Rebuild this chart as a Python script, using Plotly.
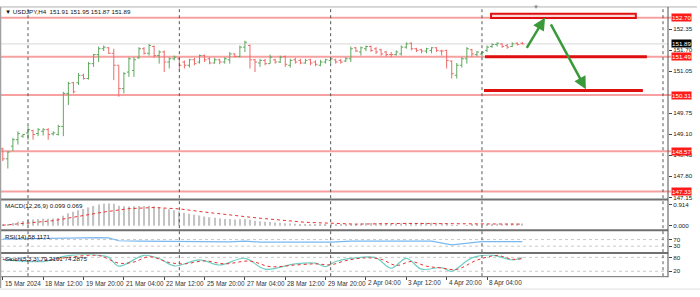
import plotly.graph_objects as go

# ---------------- data ----------------
bar_open = [148.65,148.34,148.73,148.93,149.04,149.14,149.21,149.12,149.19,149.24,
            149.11,149.09,149.34,150.36,150.69,150.69,150.92,150.82,151.28,151.56,
            151.74,151.77,151.60,151.23,150.51,151.02,151.07,151.46,151.74,151.60,
            151.81,151.53,151.64,151.33,151.43,151.43,151.33,151.23,151.40,151.33,
            151.53,151.43,151.30,151.40,151.33,151.40,151.58,151.50,151.79,151.84,
            151.40,151.30,151.38,151.28,151.40,151.33,151.50,151.23,151.40,151.38,
            151.30,151.40,151.33,151.23,151.33,151.38,151.40,151.38,151.36,151.43,
            151.77,151.64,151.74,151.81,151.74,151.71,151.64,151.56,151.56,151.58,
            151.79,151.91,151.74,151.71,151.67,151.69,151.77,151.67,151.69,151.36,
            150.92,151.23,151.43,151.71,151.56,151.58,151.69,151.81,151.87,151.89,
            151.84,151.81,151.91,151.91]
bar_high = [148.68,148.58,148.99,149.19,149.11,149.34,149.24,149.29,149.29,149.29,
            149.19,149.39,150.41,150.72,150.72,150.99,150.97,151.33,151.58,151.81,
            151.84,151.79,151.74,151.23,151.02,151.48,151.48,151.79,151.79,151.89,
            151.84,151.69,151.69,151.48,151.53,151.48,151.38,151.43,151.46,151.56,
            151.56,151.48,151.46,151.43,151.48,151.64,151.60,151.84,151.99,151.87,
            151.43,151.43,151.43,151.56,151.43,151.53,151.53,151.43,151.46,151.43,
            151.43,151.43,151.38,151.40,151.43,151.48,151.43,151.43,151.48,151.81,
            151.79,151.81,151.84,151.84,151.79,151.74,151.67,151.64,151.69,151.84,
            151.94,151.94,151.77,151.74,151.77,151.79,151.79,151.71,151.71,151.38,
            151.30,151.48,151.79,151.74,151.67,151.67,151.84,151.91,151.94,151.91,
            151.89,151.94,151.94,151.95]
bar_low = [148.27,148.04,148.58,148.78,148.99,148.93,148.93,149.04,149.06,148.93,
           149.06,149.06,149.04,150.00,150.36,150.62,150.79,150.79,151.18,151.33,
           151.67,151.58,150.77,150.26,150.36,150.87,150.87,151.43,151.56,151.53,
           151.46,151.28,151.02,151.13,151.38,151.08,151.13,151.16,151.23,151.28,
           151.33,151.26,151.28,151.26,151.28,151.28,151.48,151.48,151.64,151.13,
           151.02,151.18,151.23,151.28,151.28,151.30,151.18,151.16,151.28,151.26,
           151.28,151.23,151.20,151.20,151.28,151.30,151.28,151.28,151.33,151.33,
           151.64,151.53,151.67,151.64,151.58,151.53,151.50,151.48,151.53,151.53,
           151.74,151.69,151.64,151.60,151.60,151.60,151.64,151.53,151.13,150.82,
           150.82,151.16,151.28,151.48,151.50,151.50,151.64,151.77,151.81,151.77,
           151.74,151.79,151.84,151.87]
bar_close = [148.34,148.55,148.93,149.12,149.09,149.24,149.09,149.24,149.24,149.09,
             149.14,149.34,150.36,150.67,150.41,150.92,150.82,151.28,151.56,151.74,
             151.79,151.60,151.23,150.51,150.97,151.43,151.40,151.74,151.60,151.84,
             151.53,151.64,151.33,151.43,151.48,151.23,151.23,151.40,151.28,151.53,
             151.40,151.30,151.40,151.33,151.43,151.58,151.50,151.79,151.94,151.40,
             151.33,151.38,151.28,151.48,151.33,151.48,151.26,151.38,151.33,151.30,
             151.38,151.30,151.26,151.33,151.40,151.43,151.33,151.33,151.43,151.74,
             151.67,151.77,151.81,151.69,151.64,151.58,151.56,151.56,151.64,151.79,
             151.89,151.74,151.69,151.67,151.74,151.77,151.69,151.67,151.38,150.97,
             151.23,151.43,151.74,151.58,151.64,151.63,151.79,151.87,151.91,151.81,
             151.79,151.89,151.87,151.89]
bar_idx = list(range(len(bar_close)))

level_prices = [152.70, 151.49, 150.31, 148.57, 147.33]
level_labels = ["152.70", "151.49", "150.31", "148.57", "147.33"]
price_ticks = [152.35, 151.70, 151.05, 149.75, 149.10, 148.45, 147.80, 147.15]
last_price = 151.89

macd_main = [0.05,0.08,0.12,0.17,0.21,0.25,0.27,0.29,0.31,0.31,
             0.32,0.34,0.44,0.55,0.61,0.68,0.73,0.80,0.87,0.93,
             0.97,0.98,0.96,0.88,0.85,0.84,0.85,0.87,0.87,0.88,
             0.85,0.82,0.76,0.72,0.68,0.62,0.57,0.53,0.48,0.45,
             0.41,0.37,0.35,0.32,0.30,0.29,0.27,0.28,0.30,0.26,
             0.22,0.20,0.17,0.16,0.14,0.13,0.11,0.10,0.09,0.08,
             0.07,0.06,0.05,0.05,0.05,0.05,0.04,0.04,0.04,0.06,
             0.08,0.10,0.12,0.12,0.12,0.12,0.11,0.10,0.10,0.11,
             0.13,0.13,0.13,0.13,0.13,0.13,0.13,0.12,0.09,0.03,
             -0.01,0.00,0.03,0.04,0.05,0.06,0.07,0.08,0.09,0.09,
             0.09,0.10,0.10,0.099]
sig_idx = [0, 10, 20, 25, 30, 35, 40, 50, 60, 70, 80, 90, 96, 103]
sig_val = [0.02, 0.22, 0.60, 0.75, 0.80, 0.74, 0.60, 0.35, 0.15, 0.07, 0.10, 0.10, 0.07, 0.069]

rsi_idx = [0, 7, 11, 15, 19, 21, 23, 27, 35, 45, 48, 51, 59, 65, 69, 79, 85, 89, 91, 95, 103]
rsi_val = [73, 77, 80, 78, 82, 80, 63, 60, 57, 56, 60, 55, 55, 55, 60, 60, 60, 38, 45, 58, 58.1]

stk_idx = [0, 8, 10, 13, 19, 21, 23, 28, 31, 34, 39, 43, 48, 52, 58, 62, 64, 66, 71, 74,
           77, 80, 83, 87, 89, 93, 97, 101, 103]
stk_val = [70, 62, 72, 88, 90, 80, 42, 89, 75, 43, 69, 47, 76, 29, 52, 55, 40, 62, 80, 78,
           33, 76, 29, 36, 20, 78, 90, 69, 79.2]
std_idx = [0, 8, 13, 19, 23, 26, 29, 33, 36, 40, 44, 49, 53, 58, 62, 65, 68, 72, 75, 78,
           81, 84, 87, 90, 94, 98, 101, 103]
std_val = [72, 66, 80, 88, 55, 60, 83, 58, 52, 65, 52, 64, 40, 47, 52, 48, 66, 78, 72, 45,
           62, 42, 34, 28, 68, 88, 72, 74.3]

xlab_idx = [0, 8, 16, 24, 32, 40, 48, 56, 64, 72, 80, 88, 96]
xlab_txt = ["15 Mar 2024", "18 Mar 12:00", "19 Mar 20:00", "21 Mar 04:00", "22 Mar 12:00",
            "25 Mar 20:00", "27 Mar 04:00", "28 Mar 12:00", "29 Mar 20:00", "2 Apr 04:00",
            "3 Apr 12:00", "4 Apr 20:00", "8 Apr 04:00"]
week_sep_idx = [5, 35, 65, 95]

# ---------------- layout helpers ----------------
W, H = 700, 297
def fx(p): return p / W
def fy(p): return 1 - p / H

FONT = "Liberation Sans"
X_RIGHT = 668
x_per_bar = 5.044
x0_px = 2.8
xr = [(0 - x0_px) / x_per_bar, (X_RIGHT - x0_px) / x_per_bar]

fig = go.Figure()

fig.add_trace(go.Ohlc(
    x=bar_idx, open=bar_open, high=bar_high, low=bar_low, close=bar_close,
    increasing=dict(line=dict(color="#5fa85f", width=1)),
    decreasing=dict(line=dict(color="#ee6a6a", width=1)),
    tickwidth=0.4, xaxis="x", yaxis="y", hoverinfo="skip"))

fig.add_trace(go.Bar(x=bar_idx, y=macd_main, marker=dict(color="#c4c4c4", line=dict(width=0)),
                     width=0.25, xaxis="x", yaxis="y2"))
fig.add_trace(go.Scatter(x=sig_idx, y=sig_val, mode="lines", line=dict(color="#ee3030", width=1, dash="dot"),
                         xaxis="x", yaxis="y2"))
fig.add_trace(go.Scatter(x=rsi_idx, y=rsi_val, mode="lines", line=dict(color="#7ab8f0", width=1.2),
                         xaxis="x", yaxis="y3"))
fig.add_trace(go.Scatter(x=stk_idx, y=stk_val, mode="lines", line=dict(color="#6fcfc4", width=1.2, shape="spline"),
                         xaxis="x", yaxis="y4"))
fig.add_trace(go.Scatter(x=std_idx, y=std_val, mode="lines", line=dict(color="#ee3030", width=1, dash="dot", shape="spline"),
                         xaxis="x", yaxis="y4"))

axfont = dict(family=FONT, size=6.2, color="#222")
common_y = dict(side="right", showgrid=False, zeroline=False, ticks="outside", ticklen=3,
                tickcolor="#444", tickfont=axfont, showline=False, fixedrange=True)

# price range from pixel geometry
p_per_px = 1 / 32.7
main_top, main_bot = 6, 200
yr_main = [152.35 - (main_bot - 28.3) * p_per_px, 152.35 + (28.3 - main_top) * p_per_px]

fig.update_layout(
    width=W, height=H, margin=dict(l=0, r=0, t=0, b=0),
    paper_bgcolor="white", plot_bgcolor="white", showlegend=False,
    xaxis=dict(domain=[0, fx(X_RIGHT)], range=xr, anchor="y4", showgrid=False, zeroline=False,
               rangeslider=dict(visible=False), tickvals=xlab_idx, ticks="outside", ticklen=3,
               tickcolor="#444", showticklabels=False, fixedrange=True),
    yaxis=dict(domain=[fy(main_bot), fy(main_top)], range=yr_main, tickvals=price_ticks,
               ticktext=[f"{v:.2f}" for v in price_ticks], **common_y),
    yaxis2=dict(domain=[fy(231), fy(202)], range=[-0.174, 1.088], tickvals=[0.914, 0.0],
                ticktext=["0.914", "0.000"], **common_y),
    yaxis3=dict(domain=[fy(253), fy(234)], range=[-1.7, 111.8], tickvals=[70, 30],
                ticktext=["70", "30"], **common_y),
    yaxis4=dict(domain=[fy(278), fy(256)], range=[-1.4, 92.9], tickvals=[80, 20],
                ticktext=["80", "20"], **common_y),
)

shapes = []
# full-width level lines
for p in level_prices:
    shapes.append(dict(type="line", xref="paper", yref="y", x0=fx(1), x1=fx(X_RIGHT + 3), y0=p, y1=p,
                       line=dict(color="#f6a0a0", width=2), layer="below"))
# current price line
shapes.append(dict(type="line", xref="paper", yref="y", x0=fx(1), x1=fx(X_RIGHT), y0=last_price, y1=last_price,
                   line=dict(color="#d8d8d8", width=1), layer="below"))
# week separators
for s in week_sep_idx:
    shapes.append(dict(type="line", xref="x", yref="paper", x0=s, x1=s, y0=fy(278), y1=fy(6),
                       line=dict(color="#555", width=1, dash="dot")))
shapes.append(dict(type="line", xref="paper", yref="paper", x0=fx(663), x1=fx(663), y0=fy(278), y1=fy(6),
                   line=dict(color="#555", width=1, dash="dot")))
# indicator level dotted lines
for yy in [241, 247.7, 259, 273]:
    shapes.append(dict(type="line", xref="paper", yref="paper", x0=fx(1), x1=fx(X_RIGHT), y0=fy(yy), y1=fy(yy),
                       line=dict(color="#c8c8c8", width=1, dash="dot"), layer="below"))
# drawn objects: rectangle at 152.70 and thick segments
shapes.append(dict(type="rect", xref="x", yref="y", x0=96.8, x1=125.5, y0=152.69, y1=152.82,
                   line=dict(color="#e01010", width=2), fillcolor="#fcd6d6"))
shapes.append(dict(type="line", xref="x", yref="y", x0=95.6, x1=127.7, y0=151.49, y1=151.49,
                   line=dict(color="#e01010", width=3)))
shapes.append(dict(type="line", xref="x", yref="y", x0=95.4, x1=126.9, y0=150.45, y1=150.45,
                   line=dict(color="#e01010", width=3)))
# panel borders
shapes.append(dict(type="line", xref="paper", yref="paper", x0=0, x1=fx(697), y0=fy(6), y1=fy(6),
                   line=dict(color="#b0b0b0", width=1)))
for yy in [200.5, 231.5, 254.5]:
    shapes.append(dict(type="line", xref="paper", yref="paper", x0=0, x1=fx(X_RIGHT), y0=fy(yy), y1=fy(yy),
                       line=dict(color="#707070", width=2)))
shapes.append(dict(type="line", xref="paper", yref="paper", x0=0, x1=fx(X_RIGHT), y0=fy(278.5), y1=fy(278.5),
                   line=dict(color="#707070", width=1)))
shapes.append(dict(type="line", xref="paper", yref="paper", x0=fx(X_RIGHT), x1=fx(X_RIGHT), y0=fy(279), y1=fy(6),
                   line=dict(color="#505050", width=1)))
shapes.append(dict(type="line", xref="paper", yref="paper", x0=fx(0.5), x1=fx(0.5), y0=fy(290), y1=fy(6),
                   line=dict(color="#a0a0a0", width=1.5)))
shapes.append(dict(type="line", xref="paper", yref="paper", x0=0, x1=1, y0=fy(291), y1=fy(291),
                   line=dict(color="#e0e0e0", width=1)))
fig.update_layout(shapes=shapes)

ann = []
def label(text, x, y, size=6.2, color="#111", **kw):
    d = dict(text=text, x=x, y=y, xref="paper", yref="paper", showarrow=False, xanchor="left",
             yanchor="middle", font=dict(family=FONT, size=size, color=color))
    d.update(kw)
    ann.append(d)

label("\u25bc USDJPY,H4  151.91 151.95 151.87 151.89", fx(3), fy(10.5))
label("MACD(12,26,9) 0.099 0.069", fx(3), fy(207))
label("RSI(14) 58.1171", fx(3), fy(238))
label("Stoch(5,3,3) 79.2101 74.2875", fx(3), fy(260.5))
label("\u25bc", fx(531), fy(6.5), size=6, color="#888")

# red price boxes
for p, t in zip(level_prices, level_labels):
    ann.append(dict(text=t, x=fx(X_RIGHT + 3), y=p, xref="paper", yref="y", showarrow=False,
                    xanchor="left", yanchor="middle", bgcolor="#ff1a1a", borderpad=0,
                    font=dict(family=FONT, size=6.2, color="white")))
ann.append(dict(text=f"{last_price:.2f}", x=fx(X_RIGHT + 3), y=last_price, xref="paper", yref="y",
                showarrow=False, xanchor="left", yanchor="middle", bgcolor="#000", borderpad=0,
                font=dict(family=FONT, size=6.2, color="white")))
# x labels
for i, t in zip(xlab_idx, xlab_txt):
    ann.append(dict(text=t, x=i, y=fy(285), xref="x", yref="paper", showarrow=False, xanchor="left",
                    yanchor="middle", xshift=0, font=dict(family=FONT, size=6.4, color="#333")))
# green arrows
ann.append(dict(x=107.5, y=152.70, ax=103.7, ay=151.72, xref="x", yref="y", axref="x", ayref="y",
                showarrow=True, arrowhead=2, arrowsize=1, arrowwidth=2.5, arrowcolor="#3a9a3a", text=""))
ann.append(dict(x=115.6, y=150.49, ax=108.5, ay=152.54, xref="x", yref="y", axref="x", ayref="y",
                showarrow=True, arrowhead=2, arrowsize=1, arrowwidth=2.5, arrowcolor="#3a9a3a", text=""))
fig.update_layout(annotations=ann)

fig.write_html("out.html")
